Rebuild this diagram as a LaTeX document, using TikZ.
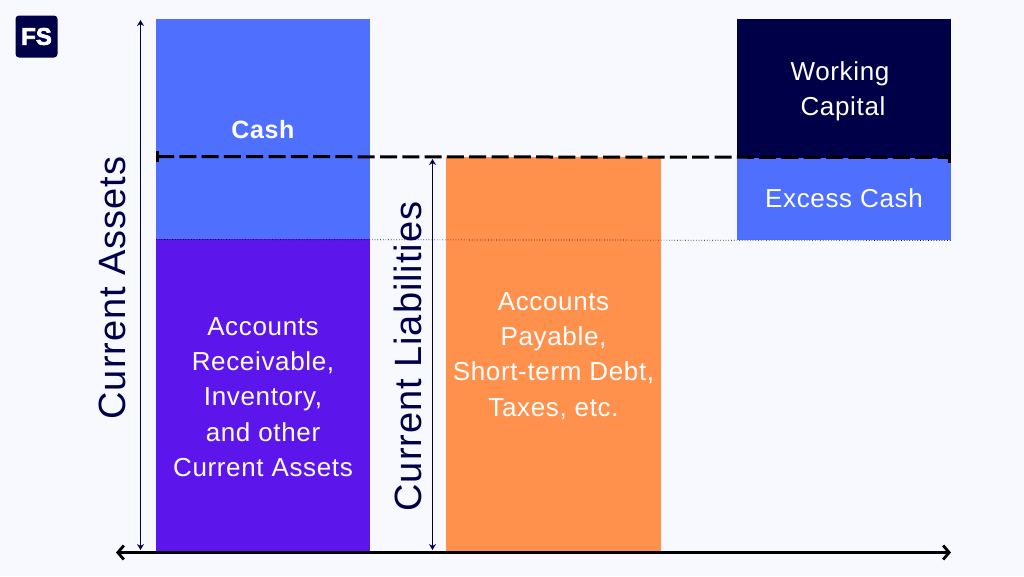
\documentclass[tikz,border=0pt]{standalone}
\usepackage{fontspec}
\setmainfont{Liberation Sans}[LetterSpace=2.5]
\newfontfamily\plainsans{Liberation Sans}
\usetikzlibrary{arrows.meta}
\definecolor{bgc}{HTML}{F8F8FF}
\definecolor{bluec}{HTML}{4F70FF}
\definecolor{purplec}{HTML}{5C16EC}
\definecolor{orangec}{HTML}{FF914D}
\definecolor{navyc}{HTML}{000048}
\tikzset{
  x=1pt,y=-1pt,
  blockbox/.style={draw=none,inner sep=0pt,text=white,align=center,minimum width=214.5pt,font=\fontsize{26}{35.2}\selectfont},
  sidelabel/.style={text=navyc,rotate=90,inner sep=0pt,font=\fontsize{38}{40}\selectfont},
  measure/.style={draw=navyc,line width=1.1pt,{Stealth[length=6pt,width=7pt]}-{Stealth[length=6pt,width=7pt]}},
  axisline/.style={draw=black,line width=2.2pt,{Straight Barb[length=6pt,width=14pt,line width=2.8pt]}-{Straight Barb[length=6pt,width=14pt,line width=2.8pt]}},
  levelline/.style={draw=black,line width=3pt,dash pattern=on 17pt off 5.3pt},
  thinline/.style={draw=black,line width=.7pt,dotted}
}
\begin{document}
\begin{tikzpicture}
\useasboundingbox (0,0) rectangle (1024,576);
\fill[bgc] (0,0) rectangle (1024,576);
% blocks
\node[blockbox,fill=bluec,minimum height=220pt,font=\fontsize{25}{30}\selectfont\bfseries] (cash) at (263,129) {\rule{0pt}{20pt}Cash};
\node[blockbox,fill=purplec,minimum height=313pt] (ar) at (263,395.5) {\rule{0pt}{21pt}Accounts\\Receivable,\\Inventory,\\and other\\Current Assets};
\node[blockbox,fill=orangec,minimum height=395pt] (ap) at (553.5,354.5) {\rule{0pt}{21pt}Accounts\\Payable,\\Short-term Debt,\\Taxes, etc.};
\node[blockbox,fill=navyc,minimum height=139pt] (wc) at (844,88.5) {\rule{0pt}{24pt}\hspace*{-8pt}Working\\\hspace*{-2pt}Capital};
\node[blockbox,fill=bluec,minimum height=82pt] (ex) at (844,199) {\raisebox{1.5pt}{Excess Cash}};
% logo
\node[fill=navyc,rounded corners=3.5pt,minimum size=42pt,inner sep=0pt,text=white,font=\plainsans\fontsize{24}{24}\selectfont\bfseries] (logo) at (36.5,36.5) {\pgfsetstrokecolor{white}\special{pdf:literal direct 2 Tr 0.7 w}FS\special{pdf:literal direct 0 Tr 0 w}};
% side labels
\node[sidelabel] (ca) at (112.5,288) {Current Assets};
\node[sidelabel] (cl) at (407.5,356.5) {Current Liabilities};
% lines
\coordinate (catop) at (140.5,20);
\coordinate (cabot) at (140.5,550);
\coordinate (cltop) at (432.5,159);
\coordinate (clbot) at (432.5,550);
\coordinate (axl) at (116,552.5);
\coordinate (axr) at (951,552.5);
\coordinate (lvl) at (157,156.5);
\coordinate (lvr) at (949.5,157.5);
\coordinate (dotl) at (156,239.5);
\coordinate (dotr) at (951,240.5);
\draw[measure] (cabot) -- (catop);
\draw[measure] (clbot) -- (cltop);
\draw[thinline] (dotl) -- (dotr);
\draw[axisline] (axl) -- (axr);
\draw[levelline] (lvl) -- (lvr);
\draw[black,line width=3pt] (157.5,151) -- (157.5,162);
\draw[black,line width=3pt] (949.5,152) -- (949.5,163);
\end{tikzpicture}
\end{document}
